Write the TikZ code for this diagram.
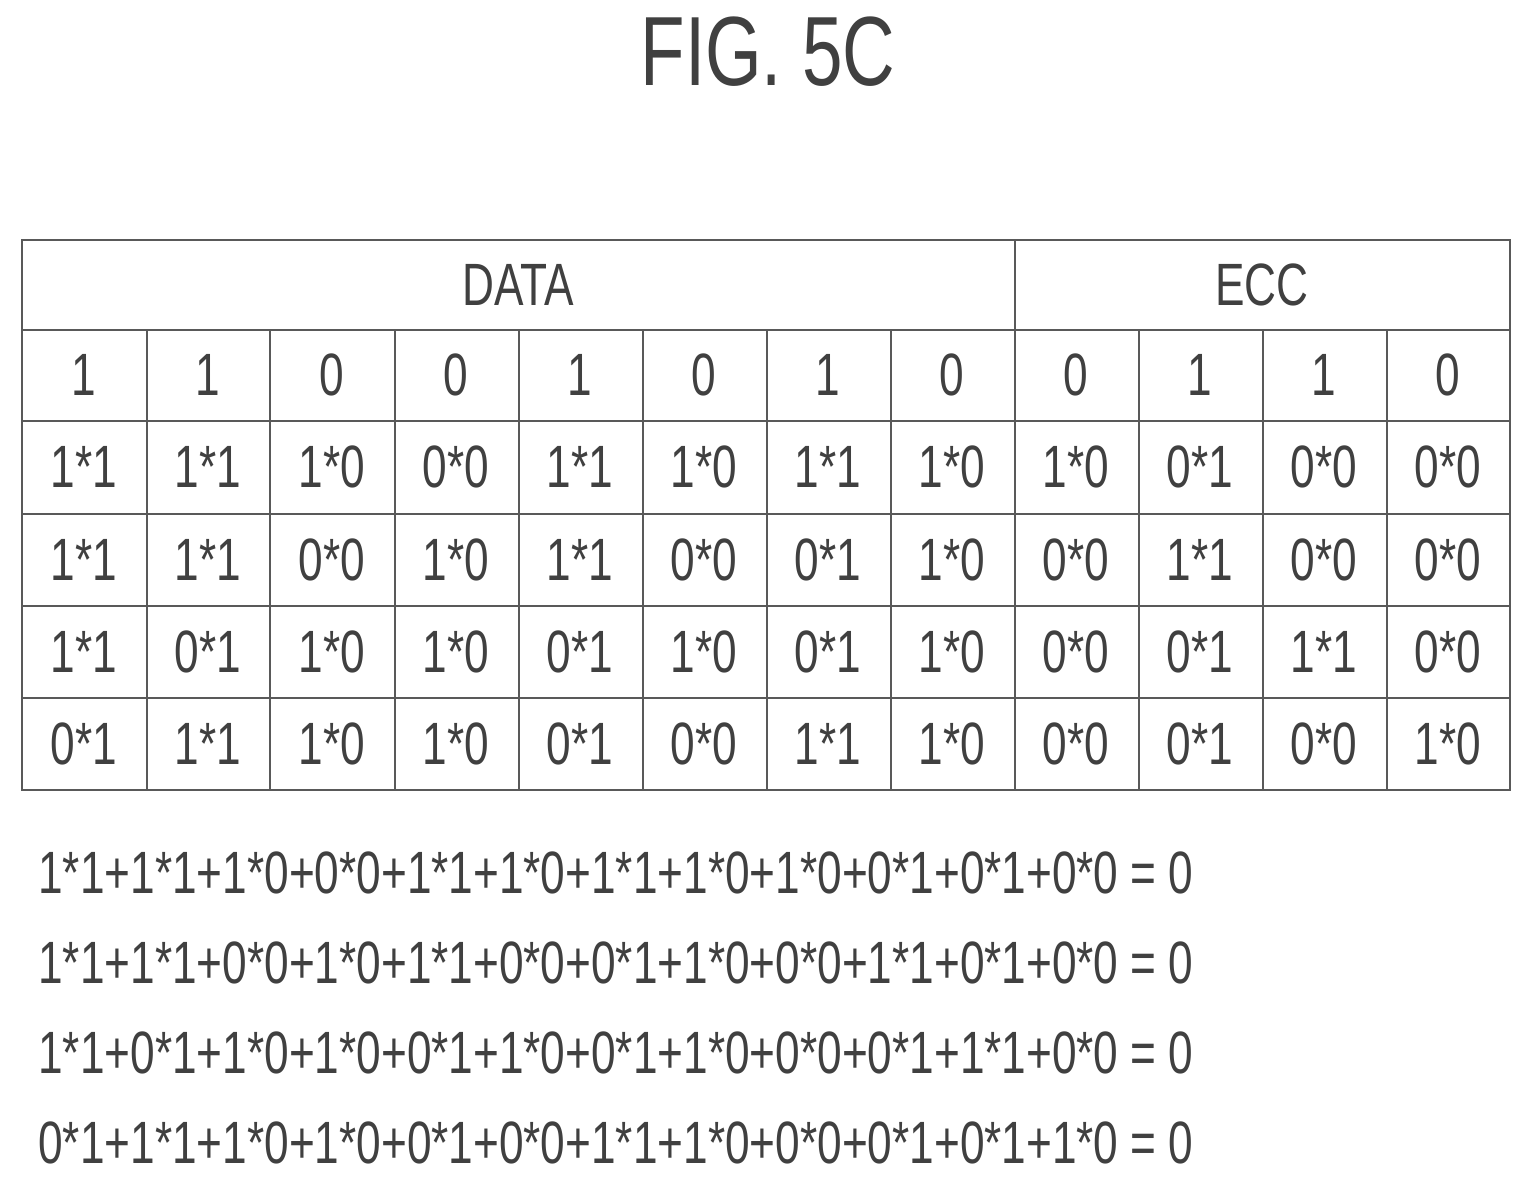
\documentclass[tikz,border=0pt]{standalone}
\usepackage{fontspec}
\setmainfont{Liberation Sans}[FakeStretch=0.74]
\usetikzlibrary{positioning}
\begin{document}
\begin{tikzpicture}[x=0.02cm,y=-0.02cm,
  every node/.style={font=\fontsize{34}{40}\selectfont, text=black!75},
  cell/.style={rectangle, minimum width=2.48cm, minimum height=1.84cm, inner sep=0pt},
  grid/.style={draw=black!65, line width=1.6pt},
  eq/.style={anchor=west, inner sep=0pt},
]
\useasboundingbox (0,0) rectangle (1533,1186);

% title
\node[font=\fontsize{56}{62}\selectfont] (title) at (768,52) {FIG. 5C};

% header
\draw[grid] (22,240) rectangle (1510,790);
\draw[grid] (22,330) -- (1510,330);
\draw[grid] (1015,240) -- (1015,330);
\node (data) at (518,285) {DATA};
\node (ecc) at (1262,285) {ECC};

% body grid
\foreach \y in {421,514,606,698} \draw[grid] (22,\y) -- (1510,\y);
\foreach \x in {147,270,395,519,643,767,891,1015,1139,1263,1387} \draw[grid] (\x,330) -- (\x,790);

% cells
\foreach \r/\y/\vals in {
  a/375/{1,1,0,0,1,0,1,0,0,1,1,0},
  b/467/{1*1,1*1,1*0,0*0,1*1,1*0,1*1,1*0,1*0,0*1,0*0,0*0},
  c/560/{1*1,1*1,0*0,1*0,1*1,0*0,0*1,1*0,0*0,1*1,0*0,0*0},
  d/652/{1*1,0*1,1*0,1*0,0*1,1*0,0*1,1*0,0*0,0*1,1*1,0*0},
  e/744/{0*1,1*1,1*0,1*0,0*1,0*0,1*1,1*0,0*0,0*1,0*0,1*0}}{
  \foreach \t [count=\i] in \vals
    \node[cell] (c-\r-\i) at ({22+124*(\i-0.5)},\y) {\t};
}

% equations
\node[eq] (eq1) at (38,873) {1*1+1*1+1*0+0*0+1*1+1*0+1*1+1*0+1*0+0*1+0*1+0*0 = 0};
\node[eq] (eq2) at (38,963) {1*1+1*1+0*0+1*0+1*1+0*0+0*1+1*0+0*0+1*1+0*1+0*0 = 0};
\node[eq] (eq3) at (38,1053) {1*1+0*1+1*0+1*0+0*1+1*0+0*1+1*0+0*0+0*1+1*1+0*0 = 0};
\node[eq] (eq4) at (38,1143) {0*1+1*1+1*0+1*0+0*1+0*0+1*1+1*0+0*0+0*1+0*1+1*0 = 0};
\end{tikzpicture}
\end{document}
